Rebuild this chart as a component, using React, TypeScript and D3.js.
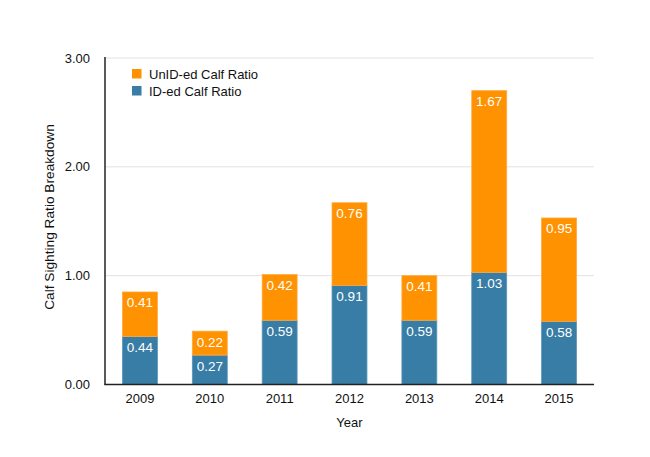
import React from "react";
import * as d3 from "d3";

const years = ["2009", "2010", "2011", "2012", "2013", "2014", "2015"];
const idRatio = [0.44, 0.27, 0.59, 0.91, 0.59, 1.03, 0.58];
const unidRatio = [0.41, 0.22, 0.42, 0.76, 0.41, 1.67, 0.95];
const yTicks = [0, 1, 2, 3];
const seriesNames = ["UnID-ed Calf Ratio", "ID-ed Calf Ratio"];

const W = 650, H = 457;
const left = 105, right = 594, top = 58, bottom = 384.5;
const ORANGE = "#FF9200";
const BLUE = "#377DA5";
const FONT = "Helvetica, 'Liberation Sans', Arial, sans-serif";

export default function App() {
  const x = d3.scaleBand<string>().domain(years).range([left, right]).paddingInner(0.5).paddingOuter(0.25);
  const y = d3.scaleLinear().domain([0, 3]).range([bottom, top]);
  const bw = x.bandwidth();

  return (
    <svg width={W} height={H} style={{ position: "absolute", left: 0, top: 0, background: "#fff" }} fontFamily={FONT}>
      {yTicks.slice(1).map((t) => (
        <line key={t} x1={left} x2={right} y1={y(t)} y2={y(t)} stroke="#e2e2e2" strokeWidth={1} />
      ))}
      {yTicks.map((t) => (
        <text key={t} x={90} y={y(t) + 4.5} textAnchor="end" fontSize={13} fill="#111">
          {t.toFixed(2)}
        </text>
      ))}
      {years.map((yr, i) => {
        const x0 = x(yr)!;
        const idTop = y(idRatio[i]);
        const unTop = y(idRatio[i] + unidRatio[i]);
        return (
          <g key={yr}>
            <rect x={x0} y={idTop} width={bw} height={bottom - idTop} fill={BLUE} stroke="#5a96bb" strokeWidth={0.8} />
            <rect x={x0} y={unTop} width={bw} height={idTop - unTop} fill={ORANGE} stroke="#ffa940" strokeWidth={0.8} />
            <text x={x0 + bw / 2} y={idTop + 15.5} textAnchor="middle" fontSize={13.5} fill="#fff">
              {idRatio[i].toFixed(2)}
            </text>
            <text x={x0 + bw / 2} y={unTop + 15.5} textAnchor="middle" fontSize={13.5} fill="#fff">
              {unidRatio[i].toFixed(2)}
            </text>
            <text x={x0 + bw / 2} y={403} textAnchor="middle" fontSize={13} fill="#111">
              {yr}
            </text>
          </g>
        );
      })}
      <line x1={left} x2={left} y1={top - 1} y2={bottom} stroke="#222" strokeWidth={1.5} />
      <line x1={left - 0.75} x2={right} y1={bottom} y2={bottom} stroke="#222" strokeWidth={1.5} />
      <text x={(left + right) / 2} y={427} textAnchor="middle" fontSize={13} fill="#111">
        Year
      </text>
      <text transform={`translate(54,217) rotate(-90)`} textAnchor="middle" fontSize={13.7} fill="#111">
        Calf Sighting Ratio Breakdown
      </text>
      {seriesNames.map((s, i) => (
        <g key={s}>
          <rect x={132} y={69 + i * 17} width={9.5} height={9.5} fill={i === 0 ? ORANGE : BLUE} />
          <text x={149} y={78.5 + i * 17} fontSize={13} fill="#111">
            {s}
          </text>
        </g>
      ))}
    </svg>
  );
}
